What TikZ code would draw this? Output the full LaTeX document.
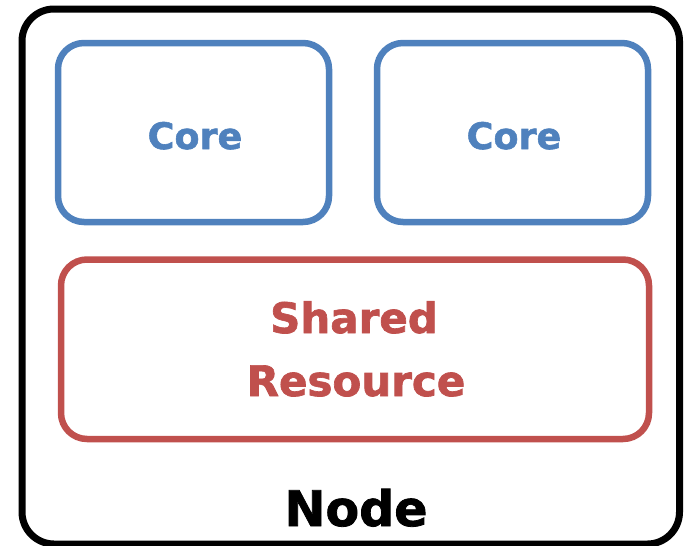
\documentclass[tikz,border=0pt]{standalone}
\usepackage{fontspec}
\setmainfont{DejaVu Sans}[BoldFeatures={FakeBold=1.6}]
\definecolor{coreblue}{HTML}{4F81BD}
\definecolor{sharedred}{HTML}{C0504D}
\begin{document}
\begin{tikzpicture}[x=1pt,y=-1pt,
  box/.style={line width=6.5pt,rounded corners=26pt},
  label/.style={anchor=base,inner sep=0pt}]
\useasboundingbox (0,0) rectangle (688,546);
% outer node frame
\draw[line width=7pt,rounded corners=32pt] (22,9) rectangle (679.5,544);
% two cores
\draw[box,coreblue] (58,43) rectangle (329,222);
\draw[box,coreblue] (377,43) rectangle (648,222);
% shared resource
\draw[box,sharedred] (61,259.5) rectangle (649,439);
% labels
\node[label,text=coreblue,font=\bfseries\fontsize{36.5}{38}\selectfont] (c1) at (195,149) {Core};
\node[label,text=coreblue,font=\bfseries\fontsize{36.5}{38}\selectfont] (c2) at (514,149) {Core};
\node[label,text=sharedred,font=\bfseries\fontsize{42}{44}\selectfont] (s1) at (354,333) {Shared};
\node[label,text=sharedred,font=\bfseries\fontsize{42}{44}\selectfont] (s2) at (356,396) {Resource};
\node[label,text=black,font=\bfseries\fontsize{49}{50}\selectfont] (n) at (356,526) {Node};
\end{tikzpicture}
\end{document}
